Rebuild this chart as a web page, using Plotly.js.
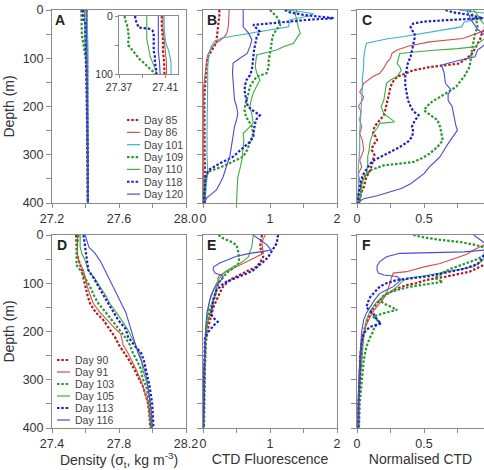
<!DOCTYPE html>
<html>
<head>
<meta charset="utf-8">
<script src="https://cdn.plot.ly/plotly-3.0.1.min.js"></script>
<style>html,body{margin:0;padding:0;background:#fff;}#chart{width:484px;height:470px;}</style>
</head>
<body>
<div id="chart"></div>
<script>
// ---------- Legend names ----------
const topDays = ['Day 85','Day 86','Day 101','Day 109','Day 110','Day 118','Day 120'];
const botDays = ['Day 90','Day 91','Day 103','Day 105','Day 113','Day 116'];

// ---------- Panel A : density (sigma-t), top row ----------
const A85_d = [0,20,40,60,80,100,150,200,250,300,350,400];
const A85_v = [27.407,27.407,27.408,27.408,27.409,27.410,27.411,27.412,27.412,27.413,27.413,27.414];
const A86_d = [0,20,40,60,80,100,150,200,250,300,350,400];
const A86_v = [27.408,27.408,27.409,27.410,27.411,27.411,27.412,27.412,27.413,27.413,27.414,27.414];
const A101_d = [0,20,40,50,60,70,80,90,100,150,200,250,300,350,400];
const A101_v = [27.409,27.409,27.410,27.411,27.413,27.414,27.415,27.415,27.415,27.415,27.415,27.416,27.416,27.416,27.417];
const A109_d = [0,5,10,15,20,25,30,35,40,45,50,55,60,65,70,75,80,85,90,95,100,150,200,250,300,350,400];
const A109_v = [27.375,27.375,27.376,27.377,27.377,27.378,27.378,27.379,27.378,27.378,27.378,27.380,27.382,27.384,27.386,27.388,27.391,27.394,27.397,27.399,27.401,27.406,27.409,27.411,27.412,27.413,27.414];
const A110_d = [0,10,20,30,40,50,60,70,80,90,100,150,200,250,300,350,400];
const A110_v = [27.394,27.394,27.394,27.394,27.394,27.395,27.396,27.397,27.399,27.401,27.403,27.407,27.410,27.411,27.412,27.413,27.414];
const A118_d = [0,5,10,15,20,22,25,30,40,50,60,70,80,90,100,150,200,250,300,350,400];
const A118_v = [27.384,27.384,27.385,27.386,27.387,27.396,27.399,27.400,27.400,27.400,27.400,27.401,27.401,27.402,27.403,27.407,27.410,27.411,27.412,27.413,27.414];
const A120_d = [0,20,40,60,80,100,150,200,250,300,350,400];
const A120_v = [27.404,27.404,27.404,27.404,27.405,27.406,27.408,27.410,27.411,27.412,27.413,27.414];

// ---------- Panel B : CTD fluorescence, top row ----------
const B85_d = [0,6,15,25,35,45,55,65,75,85,95,105,120,135,150,170,190,210,230,250,270,290,310,330,350,370,390,400];
const B85_v = [0.24,0.25,0.24,0.23,0.22,0.21,0.21,0.20,0.17,0.12,0.08,0.06,0.05,0.04,0.03,0.025,0.02,0.02,0.015,0.02,0.015,0.02,0.025,0.03,0.02,0.03,0.02,0.02];
const B86_d = [0,10,20,30,40,50,58,64,70,80,90,100,120,140,160,200,250,300,350,400];
const B86_v = [0.39,0.39,0.38,0.38,0.37,0.35,0.30,0.24,0.18,0.12,0.08,0.06,0.04,0.02,0.01,0.01,0.01,0.01,0.015,0.01];
const B101_d = [0,4,8,12,16,20,25,30,35,40,45,50,55,58,65,76,90,100,120,150,200,250,300,340,360,380,400];
const B101_v = [1.25,1.5,1.65,1.6,1.45,1.3,1.3,1.28,1.28,1.06,0.85,0.63,0.41,0.28,0.17,0.12,0.09,0.08,0.07,0.07,0.06,0.06,0.06,0.07,0.05,0.04,0.03];
const B109_d = [0,7,14,20,25,31,40,50,62,75,90,105,118,131,138,150,159,172,186,197,207,221,232,242,256,266,276,290,304,315,325,335,346,360,380,400];
const B109_v = [1.0,1.05,1.1,1.12,1.15,1.15,1.1,1.05,1.03,1.02,1.0,0.98,0.98,0.95,0.8,0.74,0.70,0.68,0.65,0.63,0.62,0.64,0.69,0.73,0.75,0.72,0.70,0.66,0.6,0.42,0.28,0.08,0.04,0.03,0.02,0.02];
const B110_d = [0,10,21,35,48,60,69,76,83,93,105,117,130,145,158,172,186,200,217,234,245,256,270,283,297,311,330,346,370,393,400];
const B110_v = [1.4,1.38,1.4,1.42,1.45,1.4,1.35,1.2,1.1,0.8,0.79,0.78,0.8,0.85,0.8,0.75,0.72,0.7,0.73,0.75,0.68,0.6,0.61,0.6,0.59,0.58,0.55,0.52,0.51,0.5,0.5];
const B118_d = [0,5,10,14,17,20,24,28,31,38,45,57,69,85,100,124,135,145,155,166,183,200,210,218,226,234,248,263,273,283,293,304,318,332,346,360,380,400];
const B118_v = [1.22,1.3,1.5,1.8,1.95,1.6,1.25,0.9,0.75,0.8,0.85,0.8,0.78,0.76,0.75,0.73,0.7,0.65,0.63,0.62,0.64,0.67,0.76,0.85,0.8,0.78,0.76,0.75,0.7,0.62,0.55,0.45,0.25,0.08,0.04,0.03,0.02,0.02];
const B120_d = [0,6,20,35,48,62,76,90,100,110,130,151,170,186,200,214,228,242,260,276,290,304,315,325,335,346,360,373,382,390,400];
const B120_v = [0.6,0.6,0.6,0.6,0.68,0.73,0.7,0.66,0.55,0.45,0.44,0.45,0.46,0.47,0.5,0.52,0.5,0.47,0.45,0.43,0.41,0.4,0.37,0.35,0.33,0.3,0.25,0.2,0.12,0.05,0.03];

// ---------- Panel C : normalised CTD, top row ----------
const C85_d = [0,10,20,30,40,50,60,70,80,90,100,111,118,125,132,138,148,159,173,187,198,208,218,228,235,242,256,263,270,280,290,300,311,322,332,346,356,367,380,390,400];
const C85_v = [0.97,0.99,0.98,0.96,0.95,0.93,0.92,0.9,0.88,0.86,0.82,0.76,0.55,0.42,0.36,0.3,0.27,0.25,0.24,0.23,0.22,0.21,0.2,0.17,0.15,0.13,0.12,0.14,0.15,0.12,0.11,0.13,0.12,0.11,0.1,0.07,0.06,0.05,0.03,0.02,0.01];
const C86_d = [0,10,20,30,41,50,59,66,75,83,90,100,110,120,131,138,145,152,160,170,180,187,200,210,228,242,256,270,290,311,325,340,353,367,380,395,400];
const C86_v = [0.98,1.0,0.99,0.98,0.97,0.88,0.79,0.54,0.38,0.3,0.26,0.25,0.22,0.2,0.17,0.12,0.08,0.05,0.04,0.02,0.05,0.04,0.01,0.03,0.02,0.035,0.02,0.04,0.05,0.02,0.035,0.01,0.02,0.03,0.01,0.01,0.0];
const C101_d = [0,8,16,25,35,45,55,60,66,69,80,100,118,140,160,187,220,256,290,325,360,380,395,400];
const C101_v = [0.76,1.0,0.95,0.8,0.78,0.57,0.35,0.22,0.12,0.07,0.06,0.05,0.05,0.04,0.04,0.035,0.03,0.02,0.02,0.01,0.01,0.01,0.0,0.0];
const C109_d = [0,10,20,35,50,62,80,100,118,128,138,148,159,170,180,190,200,208,218,228,242,256,270,284,298,308,315,322,332,346,360,380,395,400];
const C109_v = [0.84,0.86,0.89,0.9,0.88,0.87,0.86,0.85,0.84,0.82,0.8,0.77,0.74,0.68,0.62,0.56,0.52,0.5,0.55,0.6,0.62,0.63,0.64,0.6,0.54,0.48,0.42,0.2,0.1,0.05,0.035,0.03,0.02,0.02];
const C110_d = [0,10,20,30,40,48,60,70,76,80,84,87,90,100,111,118,125,138,145,152,170,187,200,215,225,232,235,245,256,270,290,304,320,339,350,360,380,400];
const C110_v = [0.87,0.9,0.92,0.95,0.97,1.0,0.95,0.9,0.89,0.75,0.55,0.4,0.32,0.31,0.3,0.32,0.33,0.3,0.25,0.22,0.21,0.2,0.18,0.2,0.25,0.28,0.17,0.15,0.12,0.1,0.09,0.08,0.08,0.07,0.05,0.035,0.03,0.02];
const C118_d = [0,5,10,17,21,24,28,35,42,48,58,69,83,97,110,124,138,155,173,187,200,210,218,230,242,252,263,273,284,294,304,311,318,330,339,353,367,385,400];
const C118_v = [0.66,0.72,0.84,0.94,0.67,0.5,0.42,0.4,0.41,0.43,0.43,0.42,0.41,0.4,0.38,0.37,0.36,0.36,0.37,0.38,0.4,0.42,0.46,0.43,0.41,0.42,0.41,0.38,0.32,0.25,0.17,0.13,0.1,0.07,0.05,0.03,0.02,0.01,0.01];
const C120_d = [0,20,40,62,83,97,105,114,130,152,165,175,187,200,215,230,242,249,260,277,290,304,315,325,339,350,360,370,377,385,391,398,400];
const C120_v = [0.82,0.85,0.9,1.0,0.9,0.88,0.75,0.63,0.65,0.66,0.7,0.68,0.68,0.71,0.72,0.73,0.74,0.75,0.72,0.68,0.65,0.62,0.58,0.54,0.5,0.45,0.4,0.33,0.25,0.15,0.05,0.01,0.0];

// ---------- Panel D : density, bottom row ----------
const D90_d = [0,20,38,55,73,90,107,125,142,160,176,195,211,228,245,262,280,297,314,332,349,375,400];
const D90_v = [27.544,27.546,27.548,27.562,27.578,27.588,27.598,27.612,27.627,27.66,27.706,27.745,27.775,27.80,27.835,27.865,27.894,27.92,27.943,27.96,27.973,27.982,27.987];
const D91_d = [0,38,55,73,90,107,125,142,160,176,195,205,211,228,245,262,280,297,314,349,375,400];
const D91_v = [27.552,27.552,27.56,27.588,27.60,27.611,27.628,27.647,27.685,27.726,27.78,27.81,27.815,27.825,27.854,27.88,27.904,27.925,27.943,27.973,27.985,27.993];
const D103_d = [0,20,38,50,62,73,90,107,125,142,160,176,195,211,228,245,262,280,297,314,349,375,400];
const D103_v = [27.558,27.55,27.548,27.546,27.545,27.57,27.598,27.627,27.65,27.677,27.72,27.756,27.8,27.835,27.865,27.884,27.91,27.933,27.94,27.963,27.983,27.99,27.993];
const D105_d = [0,25,38,55,73,90,107,125,142,160,176,195,211,228,245,262,280,297,314,349,375,400];
const D105_v = [27.568,27.568,27.578,27.6,27.617,27.655,27.686,27.72,27.746,27.785,27.815,27.85,27.874,27.9,27.923,27.935,27.943,27.958,27.973,27.987,27.995,27.998];
const D113_d = [0,25,38,55,73,90,107,125,142,160,176,195,211,228,245,262,280,297,314,349,375,400];
const D113_v = [27.588,27.598,27.603,27.61,27.617,27.65,27.677,27.71,27.736,27.768,27.795,27.84,27.854,27.89,27.933,27.95,27.963,27.975,27.983,27.998,28.004,28.006];
const D116_d = [0,25,38,55,73,90,107,125,142,160,176,195,211,228,245,262,280,297,314,349,375,400];
const D116_v = [27.598,27.62,27.657,27.69,27.716,27.74,27.765,27.79,27.815,27.84,27.854,27.87,27.884,27.9,27.914,27.935,27.953,27.965,27.973,27.987,27.995,27.998];

// ---------- Panel E : CTD fluorescence, bottom row ----------
const E90_d = [0,10,24,35,45,55,66,72,79,86,93,100,107,120,135,148,162,176,190,204,218,240,259,290,314,350,400];
const E90_v = [0.88,0.87,0.85,0.88,0.9,0.86,0.8,0.7,0.6,0.5,0.4,0.35,0.3,0.25,0.2,0.16,0.13,0.1,0.08,0.06,0.045,0.035,0.03,0.02,0.015,0.01,0.005];
const E91_d = [0,8,17,28,38,45,52,57,62,69,76,83,90,100,110,125,141,160,176,200,231,270,320,400];
const E91_v = [0.93,0.9,0.88,0.89,0.9,0.8,0.7,0.62,0.55,0.45,0.35,0.25,0.22,0.24,0.2,0.17,0.15,0.11,0.08,0.05,0.03,0.02,0.01,0.005];
const E103_d = [0,7,14,21,30,38,48,59,69,79,90,100,114,128,141,155,176,197,230,270,320,400];
const E103_v = [0.23,0.3,0.42,0.5,0.52,0.53,0.54,0.53,0.45,0.35,0.28,0.23,0.2,0.18,0.14,0.1,0.07,0.055,0.04,0.03,0.02,0.015];
const E105_d = [0,12,24,35,45,52,59,66,76,85,93,100,107,120,135,155,180,210,250,300,380,400];
const E105_v = [0.75,0.74,0.73,0.7,0.68,0.62,0.55,0.45,0.33,0.27,0.23,0.2,0.18,0.14,0.1,0.08,0.055,0.04,0.03,0.02,0.01,0.005];
const E113_d = [0,8,17,26,35,44,52,62,73,80,86,92,97,104,115,135,150,165,175,180,186,197,204,211,230,260,300,350,400];
const E113_v = [1.12,1.11,1.1,1.06,1.02,0.98,0.93,0.85,0.75,0.65,0.55,0.45,0.35,0.28,0.2,0.15,0.13,0.12,0.18,0.22,0.17,0.1,0.06,0.03,0.025,0.02,0.015,0.01,0.005];
const E116_d = [0,10,20,28,31,34,38,44,50,58,66,72,79,85,92,100,110,125,141,160,190,230,280,350,400];
const E116_v = [0.75,0.85,0.95,1.0,1.02,0.9,0.7,0.5,0.38,0.25,0.16,0.15,0.18,0.3,0.28,0.22,0.17,0.12,0.09,0.06,0.04,0.025,0.015,0.01,0.005];

// ---------- Panel F : normalised CTD, bottom row ----------
const F90_d = [0,10,20,30,40,50,59,68,76,86,93,100,104,111,118,127,135,148,162,176,190,210,231,255,280,320,360,400];
const F90_v = [1.0,0.99,0.98,0.97,0.985,0.99,0.97,0.9,0.84,0.67,0.52,0.44,0.37,0.3,0.25,0.2,0.17,0.13,0.1,0.08,0.06,0.045,0.035,0.03,0.02,0.015,0.01,0.01];
const F91_d = [0,10,20,31,40,50,59,66,72,76,79,86,95,105,121,131,142,155,169,186,204,230,260,300,350,400];
const F91_v = [1.0,0.98,0.95,0.87,0.82,0.72,0.62,0.5,0.42,0.37,0.27,0.26,0.25,0.24,0.22,0.2,0.17,0.13,0.1,0.07,0.05,0.03,0.02,0.015,0.01,0.01];
const F103_d = [0,5,10,15,21,26,31,40,50,60,70,78,83,88,92,97,102,107,114,121,128,135,142,149,155,162,169,176,183,190,200,211,231,260,300,350,400];
const F103_v = [0.42,0.5,0.62,0.78,0.89,0.95,0.97,0.96,0.9,0.8,0.7,0.64,0.62,0.58,0.6,0.64,0.5,0.4,0.3,0.22,0.19,0.17,0.2,0.25,0.3,0.2,0.12,0.15,0.17,0.13,0.12,0.1,0.07,0.05,0.035,0.02,0.015];
const F105_d = [0,20,40,55,66,75,83,90,98,107,118,128,138,149,162,176,200,230,260,300,350,400];
const F105_v = [0.97,1.0,0.97,0.93,0.87,0.7,0.54,0.37,0.33,0.3,0.25,0.2,0.15,0.12,0.09,0.07,0.055,0.045,0.035,0.025,0.015,0.01];
const F113_d = [0,10,20,30,40,50,60,70,78,86,93,100,107,117,128,140,150,162,170,176,183,190,197,204,220,250,300,350,400];
const F113_v = [1.0,0.98,0.97,0.96,0.95,0.93,0.9,0.8,0.65,0.52,0.3,0.22,0.17,0.14,0.1,0.08,0.07,0.12,0.14,0.15,0.18,0.1,0.07,0.05,0.035,0.025,0.02,0.01,0.01];
const F116_d = [0,10,20,30,35,38,45,55,64,73,79,83,86,93,100,107,114,121,135,149,162,176,200,240,300,350,400];
const F116_v = [0.87,0.92,0.97,1.0,0.8,0.32,0.22,0.17,0.15,0.15,0.16,0.2,0.3,0.33,0.3,0.27,0.22,0.17,0.13,0.1,0.07,0.05,0.035,0.025,0.015,0.01,0.01];

// ---------- Styles ----------
const topColors = ['#b01c1c','#d4504c','#3cb2c6','#2a962f','#3fae3f','#1e1ecc','#4b4bd2'];
const topDotted = [true,false,false,true,false,true,false];
const botColors = ['#b01c1c','#d4504c','#2a962f','#3fae3f','#1e1ecc','#4b4bd2'];
const botDotted = [true,false,true,false,true,false];
const FONT = 'Liberation Sans, Arial, Helvetica, sans-serif';
const DOT = {width:2.2, dash:'2.5px,1.8px'};

function lineStyle(color, dotted){
  return dotted ? {color:color, width:DOT.width, dash:DOT.dash} : {color:color, width:1.1};
}

const panelA = [[A85_d,A85_v],[A86_d,A86_v],[A101_d,A101_v],[A109_d,A109_v],[A110_d,A110_v],[A118_d,A118_v],[A120_d,A120_v]];
const panelB = [[B85_d,B85_v],[B86_d,B86_v],[B101_d,B101_v],[B109_d,B109_v],[B110_d,B110_v],[B118_d,B118_v],[B120_d,B120_v]];
const panelC = [[C85_d,C85_v],[C86_d,C86_v],[C101_d,C101_v],[C109_d,C109_v],[C110_d,C110_v],[C118_d,C118_v],[C120_d,C120_v]];
const panelD = [[D90_d,D90_v],[D91_d,D91_v],[D103_d,D103_v],[D105_d,D105_v],[D113_d,D113_v],[D116_d,D116_v]];
const panelE = [[E90_d,E90_v],[E91_d,E91_v],[E103_d,E103_v],[E105_d,E105_v],[E113_d,E113_v],[E116_d,E116_v]];
const panelF = [[F90_d,F90_v],[F91_d,F91_v],[F103_d,F103_v],[F105_d,F105_v],[F113_d,F113_v],[F116_d,F116_v]];

const traces = [];
function addPanel(sets, names, colors, dotted, xa, ya){
  sets.forEach((s,i)=>{
    traces.push({x:s[1], y:s[0], xaxis:xa, yaxis:ya, type:'scatter', mode:'lines',
      name:names[i], line:lineStyle(colors[i], dotted[i]), showlegend:false, hoverinfo:'skip'});
  });
}
addPanel(panelA, topDays, topColors, topDotted, 'x', 'y');
addPanel(panelA, topDays, topColors, topDotted, 'x7', 'y7');
addPanel(panelB, topDays, topColors, topDotted, 'x2', 'y2');
addPanel(panelC, topDays, topColors, topDotted, 'x3', 'y3');
addPanel(panelD, botDays, botColors, botDotted, 'x4', 'y4');
addPanel(panelE, botDays, botColors, botDotted, 'x5', 'y5');
addPanel(panelF, botDays, botColors, botDotted, 'x6', 'y6');

// ---------- Layout geometry (pixels of the 484x470 page) ----------
const W = 484, H = 470;
const px = v => v / W, py = v => 1 - v / H;
const colA = [px(52), px(186)], colB = [px(203), px(337)], colC = [px(357), 1];
const rowTop = [py(203), py(10)], rowBot = [py(428), py(235)];

const AX = '#8a8a8a', TXT = '#333';
// x axis: major ticks (labelled) every `step`, minor ticks every `minorStep`
function xax(domain, range, start, step, minorStep, fmt, anchor, title, size, tlen){
  const o = {domain:domain, range:range, anchor:anchor, tickmode:'linear', tick0:start, dtick:step, tickformat:fmt,
    ticks:'outside', ticklen:tlen||4, tickwidth:1, tickcolor:AX,
    minor:{tick0:start, dtick:minorStep, ticks:'outside', ticklen:tlen||4, tickwidth:1, tickcolor:AX, showgrid:false},
    showline:true, linecolor:AX, linewidth:1, mirror:true, showgrid:false, zeroline:false, fixedrange:true,
    tickfont:{family:FONT, size:size||12.5, color:TXT}};
  if (title) o.title = {text:title, font:{family:FONT, size:14, color:TXT}, standoff:4};
  return o;
}
function yax(domain, maxDepth, showLabels, anchor, title, mirror, size, tlen){
  const o = {domain:domain, range:[maxDepth, 0], anchor:anchor, tickmode:'linear', tick0:0, dtick:100,
    showticklabels:showLabels, ticks:'outside', ticklen:tlen||5, tickwidth:1, tickcolor:AX,
    minor:{tick0:0, dtick:50, ticks:'outside', ticklen:tlen||5, tickwidth:1, tickcolor:AX, showgrid:false},
    showline:true, linecolor:AX, linewidth:1, mirror:mirror, showgrid:false, zeroline:false, fixedrange:true,
    tickfont:{family:FONT, size:size||12.5, color:TXT}};
  if (title) o.title = {text:title, font:{family:FONT, size:14, color:TXT}};
  return o;
}

const layout = {
  width:W, height:H, margin:{l:0,r:0,t:0,b:0}, paper_bgcolor:'#fff', plot_bgcolor:'rgba(0,0,0,0)',
  showlegend:false, font:{family:FONT, color:TXT},
  xaxis: xax(colA, [27.2,28.0], 27.2, 0.4, 0.2, '.1f', 'y'),
  yaxis: yax(rowTop, 400, true, 'x', 'Depth (m)', true),
  xaxis2: xax(colB, [0,2], 0, 1, 0.5, '', 'y2'),
  yaxis2: yax(rowTop, 400, false, 'x2', null, true),
  xaxis3: xax(colC, [0,0.9478], 0, 0.5, 0.25, '', 'y3'),
  yaxis3: yax(rowTop, 400, false, 'x3', null, false),
  xaxis4: xax(colA, [27.4,28.2], 27.4, 0.4, 0.2, '.1f', 'y4', 'Density (σ<sub>t</sub>, kg m<sup>-3</sup>)'),
  yaxis4: yax(rowBot, 400, true, 'x4', 'Depth (m)', true),
  xaxis5: xax(colB, [0,2], 0, 1, 0.5, '', 'y5', 'CTD Fluorescence'),
  yaxis5: yax(rowBot, 400, false, 'x5', null, true),
  xaxis6: xax(colC, [0,0.9478], 0, 0.5, 0.25, '', 'y6', 'Normalised CTD'),
  yaxis6: yax(rowBot, 400, false, 'x6', null, false),
  xaxis7: xax([px(119), px(178)], [27.37,27.421], 27.37, 0.04, 0.02, '.2f', 'y7', null, 10.5, 3),
  yaxis7: yax([py(74), py(16)], 100, true, 'x7', null, true, 10.5, 3),
  shapes: [], annotations: []
};

// panel letters
const letters = [['A',60,20],['B',212,20],['C',367,20],['D',62,245],['E',211,245],['F',366,245]];
letters.forEach(l=>layout.annotations.push({text:'<b>'+l[0]+'</b>', xref:'paper', yref:'paper', x:px(l[1]), y:py(l[2]),
  xanchor:'center', yanchor:'middle', showarrow:false, font:{family:FONT, size:14, color:'#222'}}));

// hand-built compact legends
function legend(names, colors, dotted, x0, x1, xt, y0, dy){
  names.forEach((n,i)=>{
    const y = py(y0 + i*dy);
    layout.shapes.push({type:'line', xref:'paper', yref:'paper', x0:px(x0), x1:px(x1), y0:y, y1:y,
      line: dotted[i] ? {color:colors[i], width:DOT.width, dash:DOT.dash} : {color:colors[i], width:1.2}});
    layout.annotations.push({text:n, xref:'paper', yref:'paper', x:px(xt), y:y, xanchor:'left', yanchor:'middle',
      showarrow:false, font:{family:FONT, size:10.5, color:'#444'}});
  });
}
legend(topDays, topColors, topDotted, 127, 140, 142, 120, 12.35);
legend(botDays, botColors, botDotted, 57, 70, 73, 360, 12);

Plotly.newPlot('chart', traces, layout, {staticPlot:true, displayModeBar:false});
</script>
</body>
</html>
